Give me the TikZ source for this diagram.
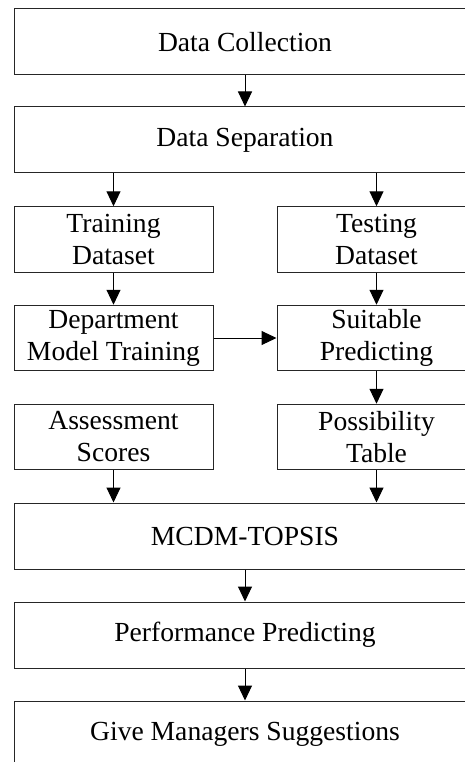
\documentclass[tikz,border=0pt]{standalone}
\usepackage{fontspec}
\setmainfont{Liberation Serif}
\usetikzlibrary{arrows.meta}
\begin{document}
\begin{tikzpicture}[x=1pt,y=-1pt,
  box/.style={draw=black!85,line width=1pt,rectangle,inner sep=0pt,align=center,
    font=\fontsize{27.6}{32}\selectfont},
  wide/.style={box,minimum width=462pt,minimum height=66pt},
  half/.style={box,minimum width=199pt,minimum height=65.5pt},
  arr/.style={draw=black,line width=1pt,-{Triangle[width=14pt,length=15pt]}}]
\useasboundingbox (0,0) rectangle (465,762);
\clip (0,0) rectangle (465,762);
\node[wide] (dc) at (245,42) {Data Collection};
\node[wide] (ds) at (245,140) {Data Separation};
\node[half] (trd) at (113.5,239.5) {Training\\Dataset};
\node[half] (ted) at (376.5,239.5) {Testing\\Dataset};
\node[half] (dmt) at (113.5,338) {Department\\Model Training};
\node[half] (sp) at (376.5,338) {Suitable\\Predicting};
\node[half] (as) at (113.5,437) {Assessment\\Scores};
\node[half] (pt) at (376.5,437) {Possibility\\Table};
\node[wide] (mc) at (245,536) {MCDM-TOPSIS};
\node[wide] (pp) at (245,635) {Performance Predicting};
\node[wide] (gm) at (245,734) {Give Managers Suggestions};
\draw[arr] (dc.south) -- (ds.north);
\draw[arr] (ds.south -| trd.north) -- (trd.north);
\draw[arr] (ds.south -| ted.north) -- (ted.north);
\draw[arr] (trd.south) -- (dmt.north);
\draw[arr] (ted.south) -- (sp.north);
\draw[arr] (dmt.east) -- (sp.west);
\draw[arr] (sp.south) -- (pt.north);
\draw[arr] (as.south) -- (as.south |- mc.north);
\draw[arr] (pt.south) -- (pt.south |- mc.north);
\draw[arr] (mc.south) -- (pp.north);
\draw[arr] (pp.south) -- (gm.north);
\end{tikzpicture}
\end{document}
